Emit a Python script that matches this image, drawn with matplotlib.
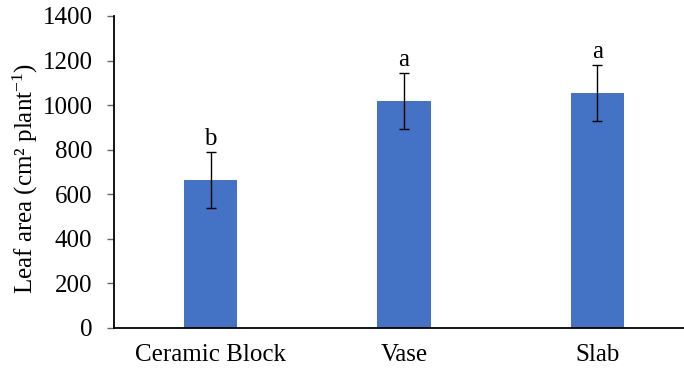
import matplotlib
matplotlib.use("Agg")
import matplotlib.pyplot as plt
import numpy as np

categories = ["Ceramic Block", "Vase", "Slab"]
leaf_area = [662, 1018, 1054]
leaf_area_sd = [125, 126, 125]
groups = ["b", "a", "a"]
y_ticks = [0, 200, 400, 600, 800, 1000, 1200, 1400]

plt.rcParams["font.family"] = ["Liberation Serif", "DejaVu Serif"]
plt.rcParams["mathtext.fontset"] = "custom"
plt.rcParams["mathtext.rm"] = "Liberation Serif"
plt.rcParams["mathtext.it"] = "Liberation Serif:italic"
plt.rcParams["mathtext.default"] = "rm"

fig = plt.figure(figsize=(6.84, 3.73), dpi=100)
ax = fig.add_axes([114 / 684, 1 - 327.7 / 373, (694 - 114) / 684, (327.7 - 16) / 373])

x = np.arange(1, len(categories) + 1)
ax.bar(x, leaf_area, width=0.275, color="#4472C4", zorder=2)
ax.errorbar(x, leaf_area, yerr=leaf_area_sd, fmt="none", ecolor="black",
            elinewidth=1.0, capsize=3.8, capthick=1.0, zorder=3)

for xi, m, s, g in zip(x, leaf_area, leaf_area_sd, groups):
    ax.annotate(g, (xi, m + s), xytext=(0, 1.5), textcoords="offset points",
                ha="center", va="bottom", fontsize=18)

ax.set_xlim(0.5, 3.5)
ax.set_ylim(0, 1400)
ax.set_yticks(y_ticks)
ax.set_xticks(x)
ax.set_xticklabels(categories, fontsize=18)
ax.tick_params(axis="y", labelsize=18, length=5, width=1.0, color="#666666", pad=10.5)
ax.tick_params(axis="x", length=0, pad=12)
ax.set_ylabel("Leaf area (cm² plant$^{\\mathrm{-1}}$)", fontsize=18, labelpad=0)
ax.yaxis.set_label_coords(-0.127, 0.48)

for side in ["top", "right"]:
    ax.spines[side].set_visible(False)
for side in ["left", "bottom"]:
    ax.spines[side].set_linewidth(1.3)
    ax.spines[side].set_color("black")

fig.savefig("out.png", dpi=100)
